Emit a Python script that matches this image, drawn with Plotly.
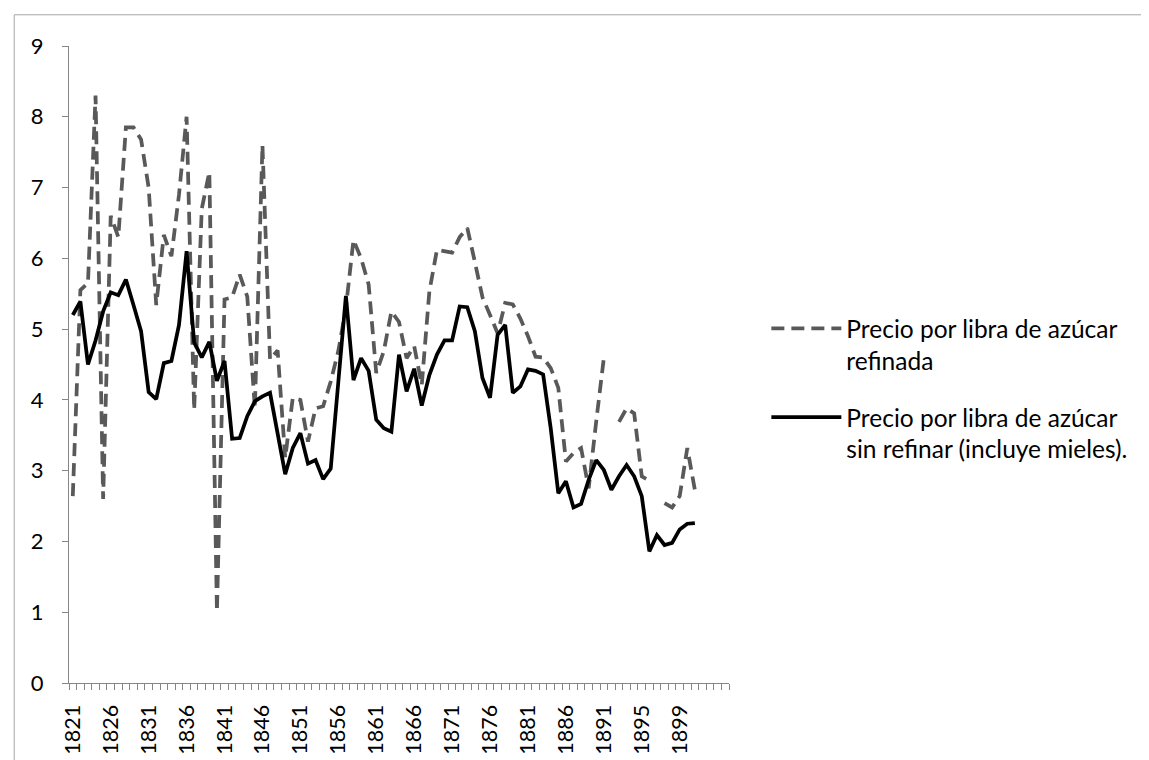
import plotly.graph_objects as go

# Category tick labels shown on the axis (every 5th category)
tick_labels = ["1821", "1826", "1831", "1836", "1841", "1846", "1851", "1856", "1861",
               "1866", "1871", "1876", "1881", "1886", "1891", "1895", "1899"]
n_categories = 87

# Precio por libra de azúcar refinada (dashed)
refinada = [2.64, 5.55, 5.65, 8.30, 2.60, 6.60, 6.30, 7.85, 7.85, 7.68,
            7.00, 5.34, 6.33, 6.03, 6.90, 8.00, 3.86, 6.70, 7.22, 1.01,
            5.42, 5.45, 5.77, 5.46, 3.88, 7.60, 4.57, 4.70, 3.18, 4.03,
            4.00, 3.41, 3.88, 3.91, 4.26, 4.69, 5.30, 6.26, 6.00, 5.63,
            4.38, 4.69, 5.25, 5.10, 4.59, 4.76, 4.21, 5.53, 6.12, 6.10,
            6.08, 6.30, 6.43, 5.95, 5.45, 5.20, 4.94, 5.37, 5.35, 5.15,
            4.90, 4.61, 4.60, 4.45, 4.17, 3.13, 3.25, 3.32, 2.75, 3.70,
            4.59, None, 3.69, 3.88, 3.81, 2.92, 2.86, None, 2.54, 2.48,
            2.64, 3.32, 2.73, None, None, None, None]

# Precio por libra de azúcar sin refinar (solid)
sin_refinar = [5.20, 5.39, 4.50, 4.84, 5.25, 5.52, 5.48, 5.70, 5.34, 4.97,
               4.11, 4.01, 4.52, 4.55, 5.06, 6.10, 4.81, 4.60, 4.82, 4.27,
               4.55, 3.45, 3.46, 3.77, 3.98, 4.05, 4.10, 3.50, 2.95, 3.32,
               3.53, 3.10, 3.15, 2.88, 3.03, 4.25, 5.47, 4.28, 4.59, 4.41,
               3.72, 3.60, 3.55, 4.64, 4.12, 4.44, 3.92, 4.35, 4.64, 4.84,
               4.84, 5.32, 5.31, 4.97, 4.31, 4.03, 4.92, 5.06, 4.10, 4.19,
               4.43, 4.41, 4.36, 3.60, 2.68, 2.85, 2.48, 2.53, 2.87, 3.15,
               3.01, 2.73, 2.92, 3.08, 2.92, 2.64, 1.86, 2.09, 1.95, 1.98,
               2.17, 2.25, 2.26, None, None, None, None]

x_idx = list(range(n_categories))
tick_pos = list(range(0, 5 * len(tick_labels), 5))

FONT = "Lato"
AXIS_GRAY = "#868686"

fig = go.Figure()
fig.add_trace(go.Scatter(
    x=x_idx, y=refinada, mode="lines",
    name="Precio por libra de azúcar<br>refinada",
    line=dict(color="#595959", width=3.75, dash="13px,7px"),
    connectgaps=False, legendgroup="a",
))
fig.add_trace(go.Scatter(
    x=x_idx, y=sin_refinar, mode="lines",
    name="Precio por libra de azúcar<br>sin refinar (incluye mieles).",
    line=dict(color="#000000", width=3.75),
    connectgaps=False, legendgroup="b",
))

fig.update_layout(
    width=1149, height=760,
    margin=dict(l=61, r=428, t=38, b=85),
    paper_bgcolor="white", plot_bgcolor="white",
    font=dict(family=FONT, size=22, color="black"),
    showlegend=True,
    legend=dict(
        x=1.0566, y=0.592, xanchor="left", yanchor="top",
        font=dict(family=FONT, size=24.5, color="black"),
        valign="top", tracegroupgap=22, itemwidth=70,
        bgcolor="rgba(0,0,0,0)",
    ),
    xaxis=dict(
        range=[-0.5, n_categories - 0.5],
        tickmode="array", tickvals=tick_pos, ticktext=tick_labels,
        tickangle=-90, ticks="", showgrid=False, zeroline=False,
        showline=True, linecolor=AXIS_GRAY, linewidth=1.3,
        tickfont=dict(family=FONT, size=21.5, color="black"),
        ticklabelstandoff=12,
        minor=dict(tickmode="linear", tick0=-0.5, dtick=1, ticks="outside",
                   ticklen=6, tickcolor=AXIS_GRAY, tickwidth=1.3, showgrid=False),
    ),
    yaxis=dict(
        range=[0, 9], dtick=1, tick0=0,
        ticks="outside", ticklen=6, tickcolor=AXIS_GRAY, tickwidth=1.3,
        showgrid=False, zeroline=False,
        showline=True, linecolor=AXIS_GRAY, linewidth=1.3,
        tickfont=dict(family=FONT, size=22, color="black"),
        ticklabelstandoff=14,
    ),
    shapes=[dict(type="rect", xref="paper", yref="paper",
                 x0=-0.083, x1=1.645, y0=-0.129, y1=1.049,
                 line=dict(color="#a6a6a6", width=1), fillcolor="rgba(0,0,0,0)",
                 layer="below")],
)

fig.write_html("out.html")
